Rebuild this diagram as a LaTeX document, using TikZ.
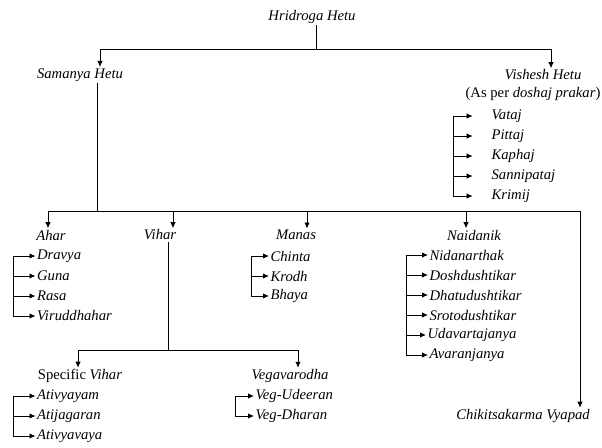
\documentclass[tikz,border=0pt]{standalone}
\usepackage{fontspec}
\setmainfont{Liberation Serif}
\usepackage{tikz}
\usetikzlibrary{arrows.meta,calc,positioning}
\tikzset{%
	plain/.style    = {inner sep=1pt, font=\fontsize{11}{13}\selectfont}, % Upright text
	head/.style     = {plain, font=\fontsize{11}{13}\selectfont\itshape}, % Heading
	leaf/.style     = {head, anchor=west}, % List item
	waypoint/.style = {coordinate}, % Junction
	link/.style     = {line width=0.6pt},
	arrow/.style    = {link, -{Latex[length=4.5pt,width=4pt]}},
}

\begin{document}
\begin{tikzpicture}[x=0.75pt,y=-0.75pt]
	\useasboundingbox (0,0) rectangle (602,447);

	% top level
	\node [head] (hetu) at (312,17) {Hridroga Hetu};
	\node [head] (samanya) at (80,75) {Samanya Hetu};
	\node [head] (vishesh) at (543,75) {Vishesh Hetu};
	\node [plain] (prakar) at (533,94) {(As per \textit{doshaj prakar})};
	\node [waypoint] (tj) at (316,49) {};

	\draw[link] (tj |- hetu.south) -- (tj);
	\draw[arrow] (tj) -| ($(samanya.north)+(20,0)$);
	\draw[arrow] (tj) -| ($(vishesh.north)+(8,0)$);

	% vishesh hetu
	\node [leaf] (vataj) at (490,116) {Vataj};
	\node [leaf] (pittaj) at (490,136) {Pittaj};
	\node [leaf] (kaphaj) at (490,156) {Kaphaj};
	\node [leaf] (sannipataj) at (490,176) {Sannipataj};
	\node [leaf] (krimij) at (490,196) {Krimij};
	\node [waypoint] (vbr) at (453,116) {};

	\draw[link] (vbr |- vataj) -- (vbr |- krimij);
	\foreach \n in {vataj,pittaj,kaphaj,sannipataj,krimij}
		\draw[arrow,shorten >=13pt] (vbr |- \n) -- (\n.west);

	% samanya hetu
	\node [head] (ahar) at (51,235) {Ahar};
	\node [head] (vihar) at (160,235) {Vihar};
	\node [head] (manas) at (296,235) {Manas};
	\node [head] (naidanik) at (474,235) {Naidanik};
	\node [head] (chikitsa) at (523,416) {Chikitsakarma Vyapad};
	\node [waypoint] (sj) at (97,211) {};
	\node [waypoint] (ja) at (48,211) {};
	\node [waypoint] (jv) at (173,211) {};
	\node [waypoint] (jm) at (307,211) {};
	\node [waypoint] (jn) at (466,211) {};
	\node [waypoint] (jc) at (580,211) {};

	\draw[link] (sj |- samanya.south) -- (sj);
	\draw[link] (ja) -- (jc);
	\draw[arrow] (ja) -- (ja |- ahar.north);
	\draw[arrow] (jv) -- (jv |- vihar.north);
	\draw[arrow] (jm) -- (jm |- manas.north);
	\draw[arrow] (jn) -- (jn |- naidanik.north);
	\draw[arrow] (jc) -- (jc |- chikitsa.north);

	% ahar
	\node [leaf] (dravya) at (35.5,256) {Dravya};
	\node [leaf] (guna) at (35.5,276) {Guna};
	\node [leaf] (rasa) at (35.5,296) {Rasa};
	\node [leaf] (viruddhahar) at (35.5,316) {Viruddhahar};
	\node [waypoint] (abr) at (13,256) {};

	\draw[link] (abr |- dravya) -- (abr |- viruddhahar);
	\foreach \n in {dravya,guna,rasa,viruddhahar}
		\draw[arrow] (abr |- \n) -- (\n.west);

	% manas
	\node [leaf] (chinta) at (269,256) {Chinta};
	\node [leaf] (krodh) at (269,276) {Krodh};
	\node [leaf] (bhaya) at (269,296) {Bhaya};
	\node [waypoint] (mbr) at (251,256) {};

	\draw[link] (mbr |- chinta) -- (mbr |- bhaya);
	\foreach \n in {chinta,krodh,bhaya}
		\draw[arrow] (mbr |- \n) -- (\n.west);

	% naidanik
	\node [leaf] (nidanarthak) at (428,255) {Nidanarthak};
	\node [leaf] (doshdushtikar) at (428,275) {Doshdushtikar};
	\node [leaf] (dhatudushtikar) at (428,295) {Dhatudushtikar};
	\node [leaf] (srotodushtikar) at (428,315) {Srotodushtikar};
	\node [leaf] (udavartajanya) at (426,335) {Udavartajanya};
	\node [leaf] (avaranjanya) at (428,355) {Avaranjanya};
	\node [waypoint] (nbr) at (406,255) {};

	\draw[link] (nbr |- nidanarthak) -- (nbr |- avaranjanya);
	\foreach \n in {nidanarthak,doshdushtikar,dhatudushtikar,srotodushtikar,udavartajanya,avaranjanya}
		\draw[arrow] (nbr |- \n) -- (\n.west);

	% vihar
	\node [plain] (specific) at (80,376) {Specific \textit{Vihar}};
	\node [head] (vegavarodha) at (290,376) {Vegavarodha};
	\node [waypoint] (vj) at (168,350) {};
	\node [waypoint] (js) at (78,350) {};
	\node [waypoint] (jg) at (298,350) {};

	\draw[link] (vj |- vihar.south) -- (vj);
	\draw[arrow] (vj) -| (js |- specific.north);
	\draw[arrow] (vj) -| (jg |- vegavarodha.north);

	% specific vihar
	\node [leaf] (ativyayam) at (35.5,396) {Ativyayam};
	\node [leaf] (atijagaran) at (35.5,416) {Atijagaran};
	\node [leaf] (ativyavaya) at (35.5,436) {Ativyavaya};
	\node [waypoint] (sbr) at (13,396) {};

	\draw[link] (sbr |- ativyayam) -- (sbr |- ativyavaya);
	\foreach \n in {ativyayam,atijagaran,ativyavaya}
		\draw[arrow] (sbr |- \n) -- (\n.west);

	% vegavarodha
	\node [leaf] (udeeran) at (254,396) {Veg-Udeeran};
	\node [leaf] (dharan) at (254,416) {Veg-Dharan};
	\node [waypoint] (gbr) at (235,396) {};

	\draw[link] (gbr |- udeeran) -- (gbr |- dharan);
	\foreach \n in {udeeran,dharan}
		\draw[arrow] (gbr |- \n) -- (\n.west);
\end{tikzpicture}
\end{document}
